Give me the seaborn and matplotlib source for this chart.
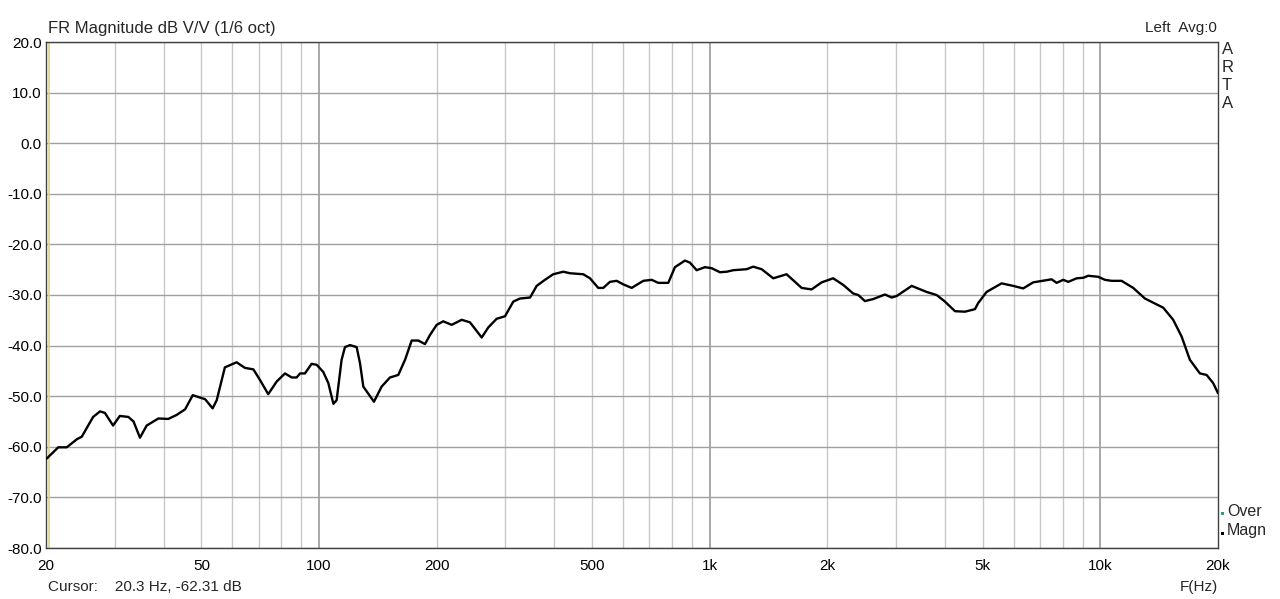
import numpy as np
import pandas as pd
import matplotlib
matplotlib.use("Agg")
import matplotlib.pyplot as plt
from matplotlib.patches import Rectangle
from matplotlib.ticker import FixedLocator, NullFormatter
import seaborn as sns

# ---------------- DATA ----------------
freq_hz = [
    20.1, 21.5, 22.6, 24.0, 24.7, 26.4, 27.5, 28.3, 29.7, 30.9, 32.5, 33.5,
    34.8, 36.2, 38.8, 41.1, 43.2, 45.4, 47.5, 51.1, 53.4, 54.7, 57.4, 61.5,
    64.6, 67.9, 70.6, 74.1, 77.9, 81.8, 85.1, 87.6, 89.4, 92.0, 95.7, 98.6,
    102.5, 105.6, 108.8, 110.9, 114.2, 116.5, 120.0, 124.8, 127.3, 129.8,
    138.2, 144.6, 151.9, 159.5, 166.0, 172.6, 179.5, 186.7, 192.3, 200.0,
    207.9, 218.5, 231.8, 243.4, 253.2, 260.8, 271.2, 284.8, 299.2, 314.2,
    326.8, 346.8, 360.6, 378.6, 397.6, 421.8, 438.8, 474.6, 493.8, 518.4,
    534.0, 555.4, 577.8, 600.8, 631.2, 676.0, 710.2, 738.4, 783.2, 814.6,
    864.0, 889.8, 925.8, 972.2, 1011, 1062, 1105, 1149, 1243, 1292, 1358,
    1454, 1573, 1719, 1823, 1934, 2070, 2196, 2329, 2400, 2496, 2622, 2809,
    2922, 3010, 3288, 3591, 3808, 4000, 4244, 4500, 4774, 4866, 5112, 5586,
    5982, 6344, 6730, 7352, 7502, 7726, 8034, 8274, 8694, 9038, 9308, 9872,
    10270, 10682, 11330, 12134, 13002, 14478, 15358, 16138, 16944, 17976,
    18700, 19438, 20000,
]
mag_db = [
    -62.3, -60.1, -60.1, -58.5, -58.0, -54.1, -53.0, -53.3, -55.8, -53.9,
    -54.1, -55.0, -58.2, -55.8, -54.4, -54.5, -53.7, -52.6, -49.8, -50.6,
    -52.4, -50.8, -44.3, -43.3, -44.4, -44.7, -46.8, -49.6, -47.1, -45.5,
    -46.3, -46.3, -45.5, -45.5, -43.6, -43.8, -45.2, -47.4, -51.5, -50.8,
    -42.8, -40.3, -39.9, -40.3, -43.5, -48.1, -51.1, -48.1, -46.3, -45.8,
    -42.8, -39.0, -39.0, -39.7, -37.9, -35.9, -35.2, -35.9, -34.9, -35.4,
    -37.1, -38.4, -36.4, -34.7, -34.2, -31.3, -30.7, -30.5, -28.2, -27.0,
    -25.9, -25.4, -25.7, -25.9, -26.7, -28.6, -28.6, -27.4, -27.2, -27.9,
    -28.6, -27.2, -27.0, -27.6, -27.6, -24.5, -23.2, -23.6, -25.1, -24.5,
    -24.7, -25.5, -25.4, -25.1, -24.9, -24.4, -24.9, -26.7, -25.9, -28.6,
    -28.9, -27.5, -26.7, -28.0, -29.7, -30.0, -31.2, -30.8, -29.9, -30.5,
    -30.2, -28.2, -29.4, -30.0, -31.3, -33.2, -33.3, -32.8, -31.6, -29.4,
    -27.7, -28.2, -28.7, -27.5, -27.0, -26.9, -27.6, -27.0, -27.4, -26.7,
    -26.6, -26.2, -26.4, -27.0, -27.2, -27.2, -28.6, -30.7, -32.5, -34.9,
    -38.2, -42.8, -45.5, -45.8, -47.4, -49.4,
]

x_ticks = [20, 50, 100, 200, 500, 1000, 2000, 5000, 10000, 20000]
x_tick_labels = ["20", "50", "100", "200", "500", "1k", "2k", "5k", "10k", "20k"]
y_ticks = list(range(-80, 21, 10))

df = pd.DataFrame({"freq": freq_hz, "mag": mag_db})

# ---------------- PLOT ----------------
sns.set_style("white")
plt.rcParams["font.family"] = ["Liberation Sans", "DejaVu Sans"]

W, H = 1280, 599
fig = plt.figure(figsize=(12.8, 5.99), dpi=100)
ax = fig.add_axes([46 / W, 1 - 548 / H, (1218 - 46) / W, (548 - 42) / H])

ax.set_xscale("log")
ax.set_xlim(20, 20000)
ax.set_ylim(-80, 20)

# grid: minor (2..9 per decade) light, decades darker
minor_lines = [m * 10 ** e for e in range(1, 5) for m in range(2, 10) if 20 < m * 10 ** e < 20000]
for f in minor_lines:
    ax.axvline(f, color="#c8c8c8", lw=1.0, zorder=1)
for f in (100, 1000, 10000):
    ax.axvline(f, color="#9a9a9a", lw=1.2, zorder=1)
for y in y_ticks:
    ax.axhline(y, color="#a0a0a0", lw=1.0, zorder=1)

# cursor line
ax.axvline(20.3, color="#ddd28c", lw=1.2, zorder=2)

sns.lineplot(data=df, x="freq", y="mag", ax=ax, color="black", lw=1.7,
             sort=False, zorder=3)

ax.xaxis.set_major_locator(FixedLocator(x_ticks))
ax.set_xticklabels(x_tick_labels)
ax.xaxis.set_minor_formatter(NullFormatter())
ax.set_yticks(y_ticks)
ax.set_yticklabels([f"{v:.1f}" for v in y_ticks])
ax.tick_params(axis="both", which="both", length=0, labelsize=11, colors="black")
ax.tick_params(axis="x", pad=8)
ax.tick_params(axis="y", pad=3)
ax.set_xlabel("")
ax.set_ylabel("")
for s in ax.spines.values():
    s.set_color("#404040")
    s.set_linewidth(1.0)

fs = 11
fig.text(48 / W, 1 - 28 / H, "FR Magnitude dB V/V (1/6 oct)", fontsize=12, va="center", ha="left")
fig.text(1217 / W, 1 - 28 / H, "Left  Avg:0", fontsize=fs, va="center", ha="right")
for i, ch in enumerate("ARTA"):
    fig.text(1222 / W, 1 - (50 + 18 * i) / H, ch, fontsize=fs + 1, va="center", ha="left")
fig.patches.append(Rectangle((1221 / W, 1 - 515 / H), 3 / W, 3 / H, transform=fig.transFigure,
                             facecolor="#2a9d8f", edgecolor="none"))
fig.text(1227 / W, 1 - 511 / H, "Over", fontsize=fs + 0.5, va="center", ha="left")
fig.patches.append(Rectangle((1221 / W, 1 - 535 / H), 3 / W, 3 / H, transform=fig.transFigure,
                             facecolor="black", edgecolor="none"))
fig.text(1227 / W, 1 - 531 / H, "Magn", fontsize=fs + 0.5, va="center", ha="left")
fig.text(48 / W, 1 - 587 / H, "Cursor:    20.3 Hz, -62.31 dB", fontsize=fs, va="center", ha="left")
fig.text(1218 / W, 1 - 587 / H, "F(Hz)", fontsize=fs, va="center", ha="right")

fig.savefig("out.png", dpi=100)
